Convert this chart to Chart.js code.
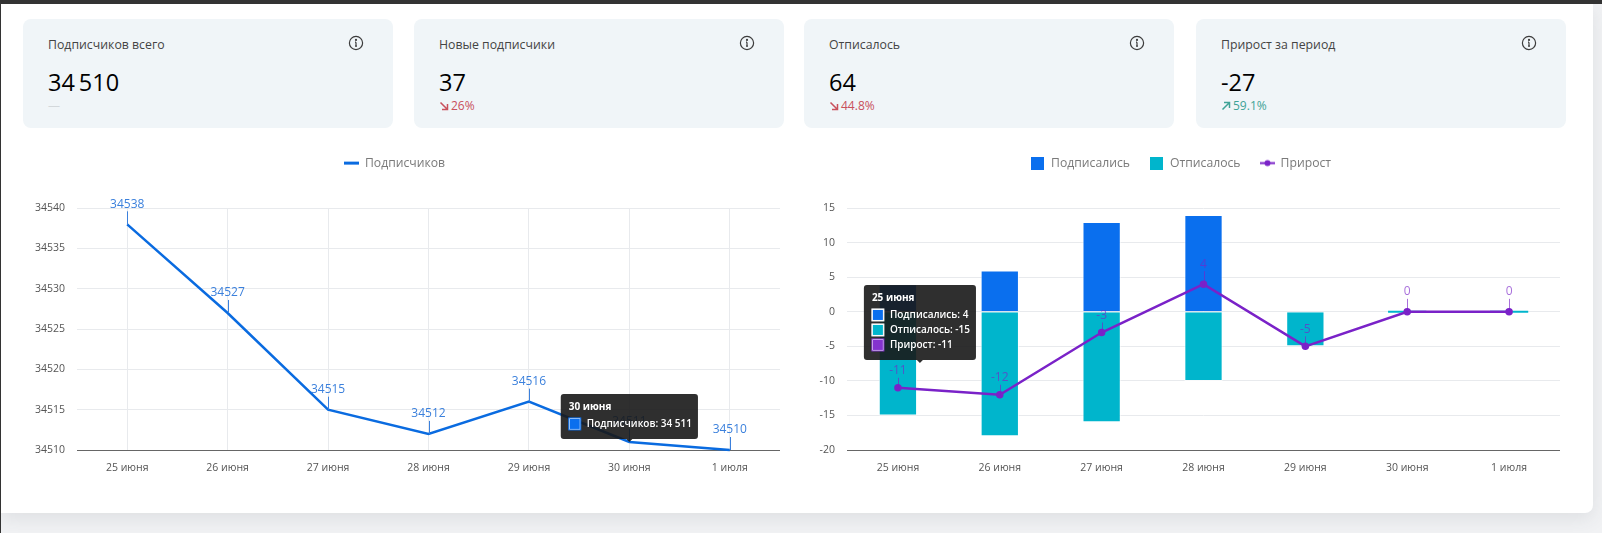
<!DOCTYPE html>
<html lang="ru">
<head>
<meta charset="utf-8">
<title>Статистика подписчиков</title>
<script src="https://cdn.jsdelivr.net/npm/chart.js"></script>
<style>
html, body { margin: 0; padding: 0; width: 1602px; height: 533px; overflow: hidden; background: #f1f2f4; font-family: "Open Sans", sans-serif; }
.topbar { position: absolute; left: 0; top: 0; width: 1602px; height: 4px; background: #333; }
.leftbar { position: absolute; left: 0; top: 0; width: 1px; height: 533px; background: #333; }
.panel { position: absolute; left: 1px; top: 4px; width: 1592px; height: 509px; background: #fff; border-radius: 0 0 8px 0; box-shadow: 0 6px 18px rgba(60, 70, 80, .1); }
.card { position: absolute; top: 19px; width: 370px; height: 109px; background: #f0f5f8; border-radius: 8px; }
.card .name { position: absolute; left: 25px; top: 17px; font-size: 12.3px; line-height: 18px; color: #444; }
.card .value { position: absolute; left: 25px; top: 46px; font-size: 23.5px; line-height: 34px; color: #000; }
.card .delta { position: absolute; left: 25px; top: 79px; font-size: 12px; line-height: 16px; display: flex; align-items: center; gap: 2px; }
.card .delta.down { color: #c9505c; }
.card .delta.up { color: #3fa397; }
.card .delta.none { color: #d3d8db; }
.card svg.info { position: absolute; left: 325px; top: 16px; }
canvas { position: absolute; }
</style>
</head>
<body>
<div class="panel"></div>
<div class="topbar"></div>
<div class="leftbar"></div>
<div id="cards"></div>
<canvas id="subsChart" width="770" height="354" style="left:10px;top:137px"></canvas>
<canvas id="flowChart" width="758" height="354" style="left:802px;top:137px"></canvas>
<script>
const days = ['25 июня', '26 июня', '27 июня', '28 июня', '29 июня', '30 июня', '1 июля'];
const subscribers = [34538, 34527, 34515, 34512, 34516, 34511, 34510];
const subscribed = [4, 6, 13, 14, 0, 0, 0];
const unsubscribed = [-15, -18, -16, -10, -5, 0, 0];
const growth = [-11, -12, -3, 4, -5, 0, 0];

const cardNames = ['Подписчиков всего', 'Новые подписчики', 'Отписалось', 'Прирост за период'];
const cardValues = ['34\u2009510', '37', '64', '-27'];
const cardDeltas = ['—', '26%', '44.8%', '59.1%'];
const cardTrends = ['none', 'down', 'down', 'up'];
const cardLefts = [23, 414, 804, 1196];

const BLUE = '#0a6be0';
const TEAL = '#00b5cc';
const PURPLE = '#7a22c8';

const infoIcon = '<svg class="info" width="16" height="16" viewBox="0 0 16 16" fill="none" stroke="#3c3c3c" stroke-width="1.2">' +
    '<circle cx="8" cy="8" r="6.6"/><path d="M8 7.2v4M7 7.2h1M7 11.2h2"/><circle cx="8" cy="4.9" r=".5"/></svg>';
const arrows = {
    down: '<svg width="10" height="10" viewBox="0 0 10 10" fill="none" stroke="currentColor" stroke-width="1.5"><path d="M1.5 1.5l7 7M3 8.5h5.5V3"/></svg>',
    up: '<svg width="10" height="10" viewBox="0 0 10 10" fill="none" stroke="currentColor" stroke-width="1.5"><path d="M1.5 8.5l7-7M3 1.5h5.5V7"/></svg>',
    none: ''
};

document.getElementById('cards').innerHTML = cardNames.map((name, i) =>
    `<div class="card" style="left:${cardLefts[i]}px">
        <div class="name">${name}</div>${infoIcon}
        <div class="value">${cardValues[i]}</div>
        <div class="delta ${cardTrends[i]}">${arrows[cardTrends[i]]}<span>${cardDeltas[i]}</span></div>
    </div>`).join('');

// little swatches for the legends
function swatch(width, height, draw) {
    const c = document.createElement('canvas');
    c.width = width;
    c.height = height;
    draw(c.getContext('2d'));
    return c;
}
const lineSwatch = swatch(15, 13, g => { g.fillStyle = BLUE; g.fillRect(0, 5, 15, 3); });
const blueSwatch = swatch(13, 13, g => { g.fillStyle = '#0a6fee'; g.fillRect(0, 0, 13, 13); });
const tealSwatch = swatch(13, 13, g => { g.fillStyle = TEAL; g.fillRect(0, 0, 13, 13); });
const purpleSwatch = swatch(15, 13, g => {
    g.fillStyle = PURPLE;
    g.fillRect(0, 5.5, 15, 2);
    g.beginPath();
    g.arc(7.5, 6.5, 3, 0, Math.PI * 2);
    g.fill();
});

// pushes the plot down from the legend
const legendGap = {
    id: 'legendGap',
    beforeInit(chart) {
        const fit = chart.legend.fit;
        chart.legend.fit = function () {
            fit.call(this);
            this.height += 29;
        };
    }
};

// value label with a short leader above each point of the line
const pointLabels = {
    id: 'pointLabels',
    afterDatasetsDraw(chart, args, opts) {
        const ctx = chart.ctx;
        const meta = chart.getDatasetMeta(opts.dataset);
        const values = chart.data.datasets[opts.dataset].data;
        ctx.save();
        ctx.font = '12px "Open Sans"';
        ctx.textAlign = 'center';
        ctx.textBaseline = 'middle';
        ctx.fillStyle = opts.color;
        ctx.strokeStyle = opts.color;
        ctx.lineWidth = 1;
        meta.data.forEach((pt, i) => {
            const up = values[i] < 0 ? 17 : 20;
            ctx.beginPath();
            ctx.moveTo(Math.round(pt.x) + 0.5, pt.y);
            ctx.lineTo(Math.round(pt.x) + 0.5, pt.y - up + 7);
            ctx.stroke();
            ctx.fillText(values[i], pt.x, pt.y - up);
        });
        ctx.restore();
    }
};

Chart.Tooltip.positioners.atCursor = (items, pos) => pos;

const tickFont = { family: '"Open Sans"', size: 10.5 };

function tooltipOptions() {
    return {
        enabled: true,
        position: 'atCursor',
        xAlign: 'center',
        yAlign: 'bottom',
        backgroundColor: 'rgba(24, 24, 24, .9)',
        cornerRadius: 3,
        caretSize: 3,
        caretPadding: 0,
        padding: { left: 8, right: 6, top: 7, bottom: 9 },
        titleFont: { family: '"Open Sans"', size: 10, weight: '700' },
        titleMarginBottom: 5,
        titleColor: '#fff',
        bodyFont: { family: '"Open Sans"', size: 10, weight: '600' },
        bodyColor: '#fff',
        bodySpacing: 3,
        boxWidth: 12,
        boxHeight: 12,
        boxPadding: 4,
        callbacks: {
            label: item => item.dataset.label + ': ' + item.raw.toLocaleString('ru-RU').replace(/\s/g, ' '),
            labelColor: item => ({
                backgroundColor: item.dataset.tipColor,
                borderColor: item.dataset.tipBorder,
                borderWidth: 1
            })
        }
    };
}

function legendOptions(swatches) {
    return {
        position: 'top',
        labels: {
            color: '#7a7a7a',
            font: { family: '"Open Sans"', size: 12.2 },
            padding: 20,
            usePointStyle: true,
            pointStyleWidth: 14,
            generateLabels: chart => chart.data.datasets.map((ds, i) => ({
                text: ds.label,
                pointStyle: swatches[i],
                fontColor: '#7a7a7a',
                datasetIndex: i,
                lineWidth: 0
            }))
        }
    };
}

const subsChart = new Chart(document.getElementById('subsChart'), {
    type: 'line',
    data: {
        labels: days,
        datasets: [{
            label: 'Подписчиков',
            data: subscribers,
            borderColor: BLUE,
            backgroundColor: BLUE,
            borderWidth: 2.5,
            tension: 0,
            pointRadius: 0,
            pointHoverRadius: 0,
            clip: false,
            tipColor: '#0a6fee',
            tipBorder: '#0a6fee'
        }]
    },
    options: {
        responsive: false,
        animation: false,
        events: [],
        layout: { padding: 0, autoPadding: false },
        scales: {
            x: {
                offset: true,
                afterFit(scale) { scale.height = 41; },
                grid: { color: '#e8eaed', drawTicks: false },
                border: { color: '#666' },
                ticks: { color: '#555', font: tickFont, padding: 12, maxRotation: 0 }
            },
            y: {
                min: 34510,
                max: 34540,
                afterFit(scale) { scale.width = 67; },
                grid: { color: '#e8eaed', drawTicks: false },
                border: { display: false },
                ticks: { color: '#555', font: tickFont, padding: 12, stepSize: 5, callback: v => String(v) }
            }
        },
        plugins: {
            legend: legendOptions([lineSwatch]),
            tooltip: tooltipOptions(),
            pointLabels: { dataset: 0, color: '#3b80dc' }
        }
    },
    plugins: [legendGap, pointLabels]
});

const flowChart = new Chart(document.getElementById('flowChart'), {
    type: 'bar',
    data: {
        labels: days,
        datasets: [
            {
                label: 'Подписались',
                data: subscribed,
                backgroundColor: '#0a6fee',
                borderColor: 'rgba(255, 255, 255, .75)',
                borderWidth: 1,
                stack: 'flow',
                order: 1,
                barPercentage: 0.47,
                categoryPercentage: 0.8,
                tipColor: '#0a6fee',
                tipBorder: '#fff'
            },
            {
                label: 'Отписалось',
                data: unsubscribed,
                backgroundColor: TEAL,
                borderColor: 'rgba(255, 255, 255, .75)',
                borderWidth: ctx => (ctx.raw === 0 ? 0 : 1),
                minBarLength: 2,
                stack: 'flow',
                order: 1,
                barPercentage: 0.47,
                categoryPercentage: 0.8,
                tipColor: TEAL,
                tipBorder: '#fff'
            },
            {
                type: 'line',
                label: 'Прирост',
                data: growth,
                borderColor: PURPLE,
                backgroundColor: PURPLE,
                borderWidth: 2.5,
                tension: 0,
                pointRadius: 2.5,
                pointHoverRadius: 2.5,
                stack: 'net',
                order: 0,
                tipColor: '#8433cf',
                tipBorder: '#8433cf'
            }
        ]
    },
    options: {
        responsive: false,
        animation: false,
        events: [],
        layout: { padding: 0, autoPadding: false },
        scales: {
            x: {
                stacked: true,
                afterFit(scale) { scale.height = 41; },
                grid: { display: false, drawTicks: false },
                border: { color: '#666' },
                ticks: { color: '#555', font: tickFont, padding: 12, maxRotation: 0 }
            },
            y: {
                stacked: true,
                min: -20,
                max: 15,
                afterFit(scale) { scale.width = 45; },
                grid: { color: '#e8eaed', drawTicks: false },
                border: { display: false },
                ticks: { color: '#555', font: tickFont, padding: 12, stepSize: 5 }
            }
        },
        plugins: {
            legend: legendOptions([blueSwatch, tealSwatch, purpleSwatch]),
            tooltip: tooltipOptions(),
            pointLabels: { dataset: 2, color: 'rgba(122, 34, 200, .65)' }
        }
    },
    plugins: [legendGap, pointLabels]
});

// tooltips that were open on the original screenshot
const subsX = subsChart.scales.x;
const subsY = subsChart.scales.y;
subsChart.tooltip.setActiveElements(
    [{ datasetIndex: 0, index: 5 }],
    { x: subsX.getPixelForValue(5), y: subsY.getPixelForValue(subscribers[5]) }
);
subsChart.draw();

const flowX = flowChart.scales.x;
const flowY = flowChart.scales.y;
flowChart.tooltip.setActiveElements(
    [0, 1, 2].map(d => ({ datasetIndex: d, index: 0 })),
    { x: flowX.getPixelForValue(0) + 22, y: flowY.getPixelForValue(-7.4) }
);
flowChart.draw();
</script>
</body>
</html>
